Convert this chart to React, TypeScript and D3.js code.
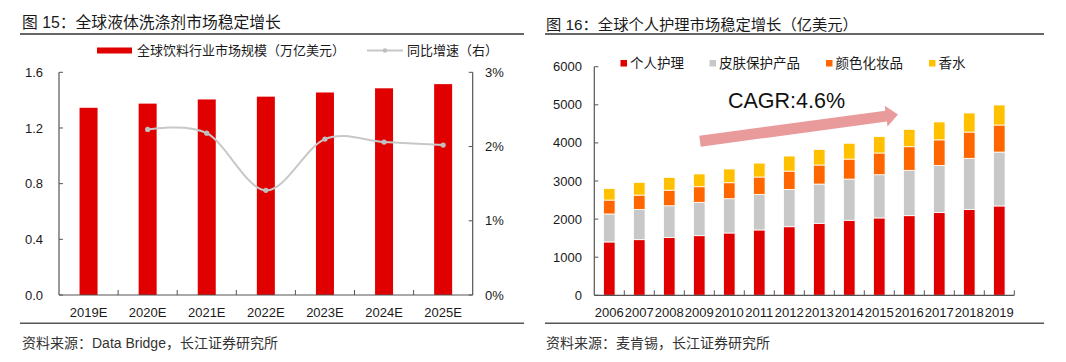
import React from "react";
import * as d3 from "d3";

// ---------- Data: left chart ----------
const leftCats = ["2019E", "2020E", "2021E", "2022E", "2023E", "2024E", "2025E"];
const marketSize = [1.345, 1.375, 1.405, 1.425, 1.455, 1.485, 1.515];
const growthRate: (number | null)[] = [null, 2.23, 2.18, 1.41, 2.1, 2.06, 2.02];
const leftYTicks = [0, 0.4, 0.8, 1.2, 1.6];
const leftY2Ticks = [0, 1, 2, 3];

// ---------- Data: right chart ----------
const years = ["2006", "2007", "2008", "2009", "2010", "2011", "2012", "2013", "2014", "2015", "2016", "2017", "2018", "2019"];
const personalCare = [1400, 1460, 1520, 1565, 1635, 1715, 1800, 1890, 1970, 2030, 2090, 2170, 2255, 2345];
const skinCare = [735, 795, 830, 875, 900, 935, 980, 1030, 1080, 1135, 1190, 1240, 1340, 1415];
const colorCosmetics = [365, 375, 410, 410, 420, 455, 480, 500, 525, 570, 620, 670, 690, 710];
const fragrance = [300, 335, 335, 335, 360, 365, 395, 410, 415, 430, 455, 470, 500, 525];
const rightYTicks = [0, 1000, 2000, 3000, 4000, 5000, 6000];
const seriesNames = ["个人护理", "皮肤保护产品", "颜色化妆品", "香水"];
const seriesColors = ["#E00000", "#C8C8C8", "#FF6600", "#FFC000"];

const FONT = "'Liberation Sans', Arial, 'Noto Sans CJK SC', sans-serif";
const AXIS = "#555";
const TEXT = "#1a1a1a";

function LeftChart() {
  const x = d3.scaleBand<string>().domain(leftCats).range([59, 472.7]);
  const y = d3.scaleLinear().domain([0, 1.6]).range([295, 72.3]);
  const y2 = d3.scaleLinear().domain([0, 3]).range([295, 72.3]);
  const bw = 18;
  const pts = leftCats
    .map((c, i) => ({ c, v: growthRate[i] }))
    .filter((d) => d.v !== null) as { c: string; v: number }[];
  const line = d3
    .line<{ c: string; v: number }>()
    .x((d) => x(d.c)! + x.bandwidth() / 2)
    .y((d) => y2(d.v))
    .curve(d3.curveCardinal.tension(0));
  return (
    <g>
      <text x={22} y={28} fontSize={15.8} fill={TEXT}>图 15：全球液体洗涤剂市场稳定增长</text>
      <line x1={20} x2={524} y1={34} y2={34} stroke="#333" strokeWidth={1.5} />
      {/* legend */}
      <rect x={97} y={47.5} width={35} height={6} fill="#E00000" />
      <text x={137} y={54.5} fontSize={13} fill={TEXT}>全球饮料行业市场规模（万亿美元）</text>
      <line x1={367} x2={403} y1={50.5} y2={50.5} stroke="#C8C8C8" strokeWidth={2} />
      <circle cx={385} cy={50.5} r={2.3} fill="#BFBFBF" />
      <text x={407} y={54.5} fontSize={13} fill={TEXT}>同比增速（右）</text>
      {/* bars */}
      {leftCats.map((c, i) => (
        <rect key={c} x={x(c)! + x.bandwidth() / 2 - bw / 2} y={y(marketSize[i])} width={bw}
          height={y(0) - y(marketSize[i])} fill="#E00000" />
      ))}
      {/* line */}
      <path d={line(pts)!} fill="none" stroke="#C8C8C8" strokeWidth={2} />
      {pts.map((d) => (
        <circle key={d.c} cx={x(d.c)! + x.bandwidth() / 2} cy={y2(d.v)} r={2.6} fill="#BFBFBF" />
      ))}
      {/* axes */}
      <line x1={59} x2={59} y1={72.3} y2={295} stroke={AXIS} strokeWidth={1.2} />
      <line x1={472.7} x2={472.7} y1={72.3} y2={295} stroke={AXIS} strokeWidth={1.2} />
      <line x1={59} x2={472.7} y1={295} y2={295} stroke={AXIS} strokeWidth={1.2} />
      {leftYTicks.map((t) => (
        <g key={t}>
          <line x1={59} x2={63} y1={y(t)} y2={y(t)} stroke={AXIS} strokeWidth={1} />
          <text x={43} y={y(t)} dy="0.35em" textAnchor="end" fontSize={13} fill={TEXT}>{d3.format(".1f")(t)}</text>
        </g>
      ))}
      {leftY2Ticks.map((t) => (
        <g key={t}>
          <line x1={468.7} x2={472.7} y1={y2(t)} y2={y2(t)} stroke={AXIS} strokeWidth={1} />
          <text x={485} y={y2(t)} dy="0.35em" fontSize={13} fill={TEXT}>{t + "%"}</text>
        </g>
      ))}
      {leftCats.slice(1).map((c) => (
        <line key={c} x1={x(c)!} x2={x(c)!} y1={290} y2={295} stroke={AXIS} strokeWidth={1} />
      ))}
      {leftCats.map((c) => (
        <text key={c} x={x(c)! + x.bandwidth() / 2} y={316.5} textAnchor="middle" fontSize={13} fill={TEXT}>{c}</text>
      ))}
      <line x1={20} x2={524} y1={323.3} y2={323.3} stroke="#555" strokeWidth={1.5} />
      <text x={22} y={348} fontSize={14} fill="#333">资料来源：Data Bridge，长江证券研究所</text>
    </g>
  );
}

function RightChart() {
  const x = d3.scaleBand<string>().domain(years).range([594.3, 1014.3]);
  const y = d3.scaleLinear().domain([0, 6000]).range([295.3, 66.7]);
  const bw = 11.5;
  const rows = years.map((yr, i) => ({
    year: yr, a: personalCare[i], b: skinCare[i], c: colorCosmetics[i], d: fragrance[i],
  }));
  const stack = d3.stack<any>().keys(["a", "b", "c", "d"])(rows);
  const legendX = [620.5, 709.5, 826, 929];
  // arrow annotation
  const tail = [700, 141.2];
  const tip = [898, 114.5];
  const dx = tip[0] - tail[0], dy = tip[1] - tail[1];
  const L = Math.hypot(dx, dy);
  const ux = dx / L, uy = dy / L, nx = -uy, ny = ux;
  const hw = 5.5, hh = 10.5, hl = 12;
  const bx = tip[0] - ux * hl, by = tip[1] - uy * hl;
  const P = (px: number, py: number, n: number) => `${px + nx * n},${py + ny * n}`;
  const arrowPts = [
    P(tail[0], tail[1], hw), P(bx, by, hw), P(bx, by, hh), `${tip[0]},${tip[1]}`,
    P(bx, by, -hh), P(bx, by, -hw), P(tail[0], tail[1], -hw),
  ].join(" ");
  return (
    <g>
      <text x={546} y={30} fontSize={15.3} fill={TEXT}>图 16：全球个人护理市场稳定增长（亿美元）</text>
      <line x1={545} x2={1044} y1={34} y2={34} stroke="#333" strokeWidth={1.5} />
      {seriesNames.map((n, i) => (
        <g key={n}>
          <rect x={legendX[i]} y={60} width={6.5} height={6.5} fill={seriesColors[i]} />
          <text x={legendX[i] + 9.5} y={68} fontSize={13.5} fill={TEXT}>{n}</text>
        </g>
      ))}
      {stack.map((s, si) => (
        <g key={si}>
          {s.map((d: any, i: number) => (
            <rect key={i} x={x(years[i])! + x.bandwidth() / 2 - bw / 2} y={y(d[1])} width={bw}
              height={y(d[0]) - y(d[1])} fill={seriesColors[si]} stroke="#fff" strokeWidth={0.8} />
          ))}
        </g>
      ))}
      <polygon points={arrowPts} fill="#E99A9A" />
      <text x={728} y={107.5} fontSize={21.5} fill="#111">CAGR:4.6%</text>
      <line x1={594.3} x2={594.3} y1={66.7} y2={295.3} stroke={AXIS} strokeWidth={1.2} />
      <line x1={594.3} x2={1014.3} y1={295.3} y2={295.3} stroke={AXIS} strokeWidth={1.2} />
      {rightYTicks.map((t) => (
        <g key={t}>
          <line x1={594.3} x2={598.3} y1={y(t)} y2={y(t)} stroke={AXIS} strokeWidth={1} />
          <text x={582} y={y(t)} dy="0.35em" textAnchor="end" fontSize={13} fill={TEXT}>{t}</text>
        </g>
      ))}
      {years.slice(1).map((yr) => (
        <line key={yr} x1={x(yr)!} x2={x(yr)!} y1={290.3} y2={295.3} stroke={AXIS} strokeWidth={1} />
      ))}
      <line x1={1014.3} x2={1014.3} y1={290.3} y2={295.3} stroke={AXIS} strokeWidth={1} />
      {years.map((yr) => (
        <text key={yr} x={x(yr)! + x.bandwidth() / 2} y={317} textAnchor="middle" fontSize={13} fill={TEXT}>{yr}</text>
      ))}
      <line x1={545} x2={1044} y1={323.3} y2={323.3} stroke="#555" strokeWidth={1.5} />
      <text x={546} y={348} fontSize={14} fill="#333">资料来源：麦肯锡，长江证券研究所</text>
    </g>
  );
}

export default function App() {
  return (
    <svg width={1066} height={362} style={{ position: "absolute", left: 0, top: 0, background: "#fff" }}
      fontFamily={FONT}>
      <rect width={1066} height={362} fill="#fff" />
      <LeftChart />
      <RightChart />
    </svg>
  );
}
